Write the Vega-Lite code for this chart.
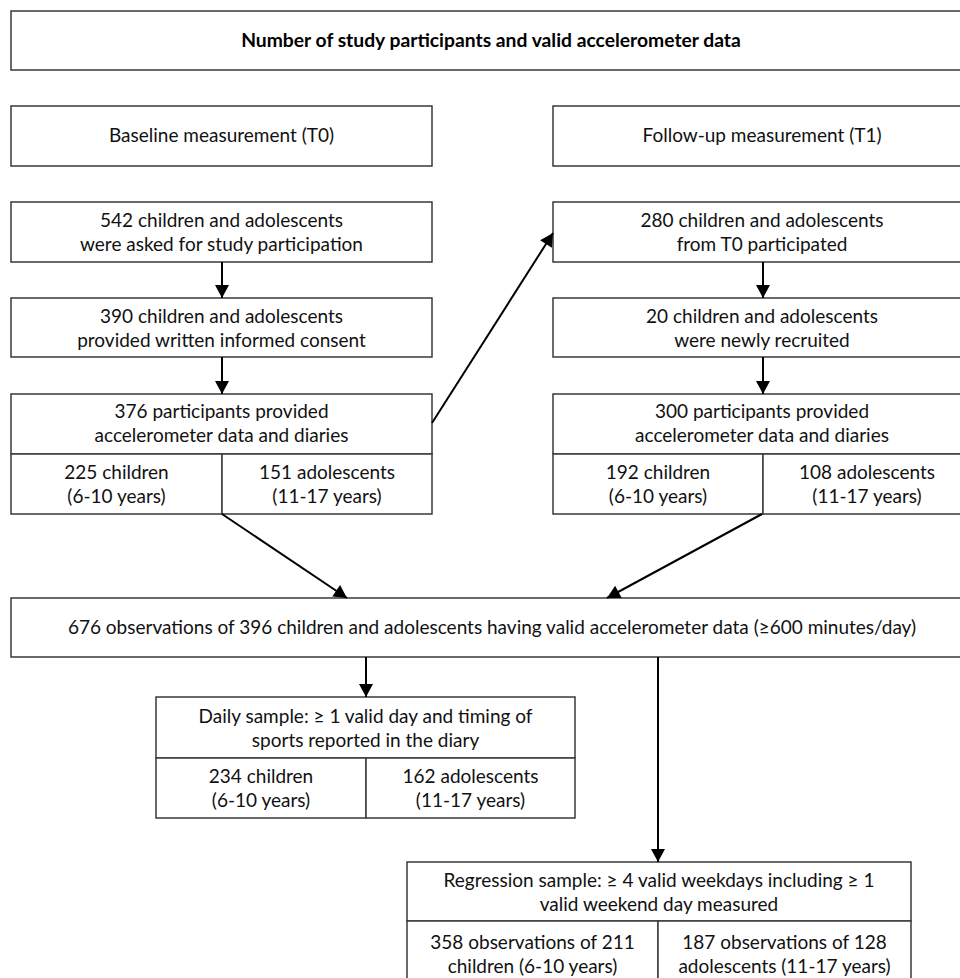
{
  "$schema": "https://vega.github.io/schema/vega-lite/v6.json",
  "width": 960,
  "height": 978,
  "autosize": {"type": "none"},
  "padding": 0,
  "background": "white",
  "config": {"view": {"stroke": null}},
  "datasets": {
    "boxes": [
      {"id": "title", "x": 11, "x2": 972, "y": 11, "y2": 70},
      {"id": "t0", "x": 11, "x2": 432, "y": 106, "y2": 166},
      {"id": "t1", "x": 553, "x2": 972, "y": 106, "y2": 166},
      {"id": "542", "x": 11, "x2": 432, "y": 202, "y2": 262},
      {"id": "390", "x": 11, "x2": 432, "y": 298, "y2": 357},
      {"id": "376", "x": 11, "x2": 432, "y": 394, "y2": 454},
      {"id": "225", "x": 11, "x2": 222, "y": 454, "y2": 514},
      {"id": "151", "x": 222, "x2": 432, "y": 454, "y2": 514},
      {"id": "280", "x": 553, "x2": 972, "y": 202, "y2": 262},
      {"id": "20", "x": 553, "x2": 972, "y": 298, "y2": 357},
      {"id": "300", "x": 553, "x2": 972, "y": 394, "y2": 454},
      {"id": "192", "x": 553, "x2": 763, "y": 454, "y2": 514},
      {"id": "108", "x": 763, "x2": 972, "y": 454, "y2": 514},
      {"id": "676", "x": 11, "x2": 972, "y": 598, "y2": 657},
      {"id": "daily", "x": 156, "x2": 575, "y": 697, "y2": 758},
      {"id": "234", "x": 156, "x2": 366, "y": 758, "y2": 818},
      {"id": "162", "x": 366, "x2": 575, "y": 758, "y2": 818},
      {"id": "regr", "x": 407, "x2": 911, "y": 862, "y2": 921},
      {"id": "358", "x": 407, "x2": 658, "y": 921, "y2": 990},
      {"id": "187", "x": 658, "x2": 911, "y": 921, "y2": 990}
    ],
    "arrows": [
      {"x": 222, "y": 262, "x2": 222, "y2": 298},
      {"x": 222, "y": 357, "x2": 222, "y2": 394},
      {"x": 432, "y": 423, "x2": 553, "y2": 233},
      {"x": 763, "y": 262, "x2": 763, "y2": 298},
      {"x": 763, "y": 357, "x2": 763, "y2": 394},
      {"x": 222, "y": 514, "x2": 347, "y2": 598},
      {"x": 762, "y": 514, "x2": 607, "y2": 598},
      {"x": 366, "y": 657, "x2": 366, "y2": 697},
      {"x": 658, "y": 657, "x2": 658, "y2": 862}
    ],
    "titles": [
      {"x": 491, "y": 41, "text": "Number of study participants and valid accelerometer data"}
    ],
    "labels": [
      {"x": 221.5, "y": 136, "text": "Baseline measurement (T0)"},
      {"x": 762, "y": 136, "text": "Follow-up measurement (T1)"},
      {"x": 221.5, "y": 221, "text": "542 children and adolescents\nwere asked for study participation"},
      {"x": 221.5, "y": 317, "text": "390 children and adolescents\nprovided written informed consent"},
      {"x": 221.5, "y": 412, "text": "376 participants provided\naccelerometer data and diaries"},
      {"x": 116.5, "y": 473, "text": "225 children\n(6-10 years)"},
      {"x": 327, "y": 473, "text": "151 adolescents\n(11-17 years)"},
      {"x": 762, "y": 221, "text": "280 children and adolescents\nfrom T0 participated"},
      {"x": 762, "y": 317, "text": "20 children and adolescents\nwere newly recruited"},
      {"x": 762, "y": 412, "text": "300 participants provided\naccelerometer data and diaries"},
      {"x": 658, "y": 473, "text": "192 children\n(6-10 years)"},
      {"x": 867, "y": 473, "text": "108 adolescents\n(11-17 years)"},
      {"x": 492, "y": 628, "text": "676 observations of 396 children and adolescents having valid accelerometer data (≥600 minutes/day)"},
      {"x": 365.5, "y": 717, "text": "Daily sample: ≥ 1 valid day and timing of\nsports reported in the diary"},
      {"x": 261, "y": 777, "text": "234 children\n(6-10 years)"},
      {"x": 470.5, "y": 777, "text": "162 adolescents\n(11-17 years)"},
      {"x": 659, "y": 881, "text": "Regression sample: ≥ 4 valid weekdays including ≥ 1\nvalid weekend day measured"},
      {"x": 532.5, "y": 943, "text": "358 observations of 211\nchildren (6-10 years)"},
      {"x": 784.5, "y": 943, "text": "187 observations of 128\nadolescents (11-17 years)"}
    ]
  },
  "layer": [
    {
      "data": {"name": "boxes"},
      "mark": {"type": "rect", "fill": "white", "stroke": "#3a3a3a", "strokeWidth": 1.5},
      "encoding": {
        "x": {"field": "x", "type": "quantitative", "scale": {"domain": [0, 960], "nice": false, "zero": false}, "axis": null},
        "x2": {"field": "x2"},
        "y": {"field": "y", "type": "quantitative", "scale": {"domain": [0, 978], "nice": false, "zero": false, "reverse": true}, "axis": null},
        "y2": {"field": "y2"}
      }
    },
    {
      "data": {"name": "arrows"},
      "mark": {"type": "rule", "color": "black", "strokeWidth": 2},
      "encoding": {
        "x": {"field": "x", "type": "quantitative"},
        "x2": {"field": "x2"},
        "y": {"field": "y", "type": "quantitative"},
        "y2": {"field": "y2"}
      }
    },
    {
      "data": {"name": "arrows"},
      "transform": [
        {"calculate": "atan2(datum.x2 - datum.x, datum.y - datum.y2) * 180 / PI", "as": "heading"}
      ],
      "mark": {"type": "point", "shape": "M0,0L-0.5,0.93L0.5,0.93Z", "filled": true, "color": "black", "opacity": 1, "size": 784, "strokeWidth": 0},
      "encoding": {
        "x": {"field": "x2", "type": "quantitative"},
        "y": {"field": "y2", "type": "quantitative"},
        "angle": {"field": "heading", "type": "quantitative", "scale": null}
      }
    },
    {
      "data": {"name": "titles"},
      "mark": {"type": "text", "font": "Lato", "fontSize": 19.3, "fontWeight": "bold", "color": "#000000", "align": "center", "baseline": "middle"},
      "encoding": {
        "x": {"field": "x", "type": "quantitative"},
        "y": {"field": "y", "type": "quantitative"},
        "text": {"field": "text"}
      }
    },
    {
      "data": {"name": "labels"},
      "mark": {"type": "text", "font": "Lato", "fontSize": 19, "color": "#111111", "align": "center", "baseline": "middle", "lineBreak": "\n", "lineHeight": 24},
      "encoding": {
        "x": {"field": "x", "type": "quantitative"},
        "y": {"field": "y", "type": "quantitative"},
        "text": {"field": "text"}
      }
    }
  ]
}
